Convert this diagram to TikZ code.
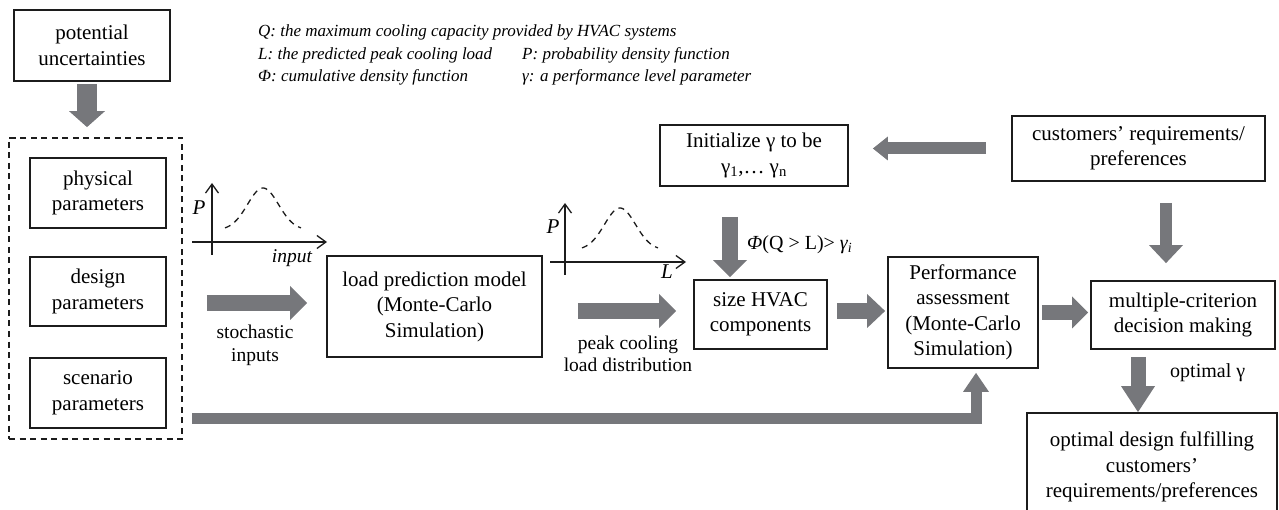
\documentclass[tikz,border=0pt]{standalone}
\usepackage{fontspec}
\setmainfont{Liberation Serif}
\usetikzlibrary{arrows.meta,calc}
\definecolor{arrowgray}{RGB}{118,119,123}
\definecolor{inkline}{RGB}{28,28,28}
\newcommand\boxfont{\fontsize{21}{25.5}\selectfont}
\newcommand\labelfont{\fontsize{19.5}{22.5}\selectfont}
\newcommand\legendfont{\fontsize{17}{20}\selectfont\itshape}

\begin{document}
\begin{tikzpicture}[x=1pt,y=-1pt,
  box/.style={draw=inkline, line width=1.8pt, rectangle, inner sep=0pt,
    align=center, font=\boxfont},
  dashbox/.style={draw=inkline, line width=1.8pt, rectangle, inner sep=0pt,
    dash pattern=on 6pt off 4.5pt},
  fat/.style n args={3}{draw=arrowgray, line width=#1,
    -{Triangle[width=#2,length=#3,line width=0pt]}},
  axis/.style={draw=inkline, line width=1.3pt,
    -{Straight Barb[length=9pt,width=13pt,line width=1.3pt]}},
  bell/.style={draw=inkline, line width=1.3pt, dash pattern=on 6pt off 5pt},
  lbl/.style={inner sep=0pt, align=center, font=\labelfont},
  legend/.style={inner sep=0pt, anchor=base west, font=\legendfont},
  axlbl/.style={inner sep=0pt, font=\fontsize{21}{24}\selectfont\itshape}]

\useasboundingbox (0,0) rectangle (1279,510);

% legend of the symbols
\node[legend] (lgQ) at (258,37) {Q: the maximum cooling capacity provided by HVAC systems};
\node[legend] (lgL) at (258,59.5) {L: the predicted peak cooling load};
\node[legend] (lgP) at (522,59.5) {P: probability density function};
\node[legend] (lgF) at (258,82) {Φ: cumulative density function};
\node[legend] (lgG) at (522,82) {γ: a performance level parameter};

% boxes
\node[box, minimum width=156pt, minimum height=71pt] (pot) at (92,45.5) {potential\\uncertainties};
\node[dashbox, minimum width=173pt, minimum height=301pt] (dash) at (95.5,288.5) {};
\node[box, minimum width=136pt, minimum height=70pt] (phys) at (98,193) {physical\\parameters};
\node[box, minimum width=136pt, minimum height=69pt] (design) at (98,291.5) {design\\parameters};
\node[box, minimum width=136pt, minimum height=70pt] (scen) at (98,393) {scenario\\parameters};
\node[box, minimum width=215pt, minimum height=101pt] (load) at (434.5,306.5) {load prediction model\\(Monte-Carlo\\Simulation)};
\node[box, minimum width=133pt, minimum height=69pt] (size) at (760.5,314.5) {size HVAC\\components};
\node[box, minimum width=188pt, minimum height=61pt] (init) at (754,155.5) {Initialize γ to be\\γ\textsubscript{1},… γ\textsubscript{n}};
\node[box, minimum width=253pt, minimum height=65pt] (cust) at (1138.5,148.5) {customers’ requirements/\\preferences};
\node[box, minimum width=150pt, minimum height=111pt] (perf) at (963,312.5) {Performance\\assessment\\(Monte-Carlo\\Simulation)};
\node[box, minimum width=184pt, minimum height=68pt] (multi) at (1183,315) {multiple-criterion\\decision making};
\node[box, minimum width=250pt, minimum height=108pt] (opt) at (1152,467) {optimal design fulfilling\\customers’\\requirements/preferences};

% input distribution sketch
\draw[axis] (212,255) -- (212,183);
\draw[axis] (192,242) -- (327,242);
\draw[bell] plot[domain=-38:38, samples=40, smooth] ({263+\x},{230-42*exp(-(\x/22)^2)});
\node[axlbl] (p1) at (199,208) {P};
\node[inner sep=0pt, font=\fontsize{19.5}{22}\selectfont\itshape] (inlbl) at (292,258) {input};

% load distribution sketch
\draw[axis] (565,275) -- (565,203);
\draw[axis] (550,262) -- (686,262);
\draw[bell] plot[domain=-38:38, samples=40, smooth] ({620+\x},{250-42*exp(-(\x/22)^2)});
\node[axlbl] (p2) at (553,227) {P};
\node[axlbl] (llbl) at (667,272) {L};

% helper points for the vertical arrows
\coordinate (szin) at ($(size.north)+(-30.5,0)$);
\coordinate (cmx) at ($(cust.south)+(27.5,0)$);
\coordinate (mox) at ($(multi.south)+(-45,0)$);
\coordinate (feed) at (192,418);

% block arrows
\draw[fat={20pt}{36pt}{16pt}, shorten <=2pt, shorten >=10pt]
  ([xshift=-5pt]pot.south) -- ([xshift=-5pt]pot.south |- dash.north);
\draw[fat={16pt}{34pt}{17pt}, shorten <=24pt, shorten >=19pt]
  ($(dash.east |- load.west)+(0,-3.5)$) -- ($(load.west)+(0,-3.5)$);
\draw[fat={16pt}{34pt}{17pt}, shorten <=35pt, shorten >=17pt]
  ($(load.east |- size.west)+(0,-3.5)$) -- ($(size.west)+(0,-3.5)$);
\draw[fat={16pt}{34pt}{17pt}, shorten <=30pt, shorten >=2pt]
  (szin |- init.south) -- (szin);
\draw[fat={16pt}{34pt}{18pt}, shorten <=9pt, shorten >=2pt]
  ($(size.east)+(0,-3.5)$) -- ($(perf.west |- size.east)+(0,-3.5)$);
\draw[fat={15pt}{32pt}{16pt}, shorten <=3pt, shorten >=2pt]
  (perf.east) -- (perf.east -| multi.west);
\draw[fat={12pt}{24pt}{15pt}, shorten <=25pt, shorten >=24pt]
  (cust.west) -- (cust.west -| init.east);
\draw[fat={12pt}{34pt}{18pt}, shorten <=21pt, shorten >=17pt]
  (cmx) -- (cmx |- multi.north);
\draw[fat={15pt}{34pt}{26pt}, shorten <=7pt, shorten >=0pt]
  (mox) -- (mox |- opt.north);
\draw[fat={11pt}{26pt}{19pt}, shorten >=4pt]
  (feed) -| ($(perf.south)+(13,0)$);

% arrow labels
\node[lbl] (stoch) at (255,345.5) {stochastic\\inputs};
\node[lbl] (peak) at (628,354) {peak cooling\\load distribution};
\node[inner sep=0pt, anchor=west, font=\fontsize{20}{24}\selectfont] (cond) at (747,245)
  {\textit{Φ}(Q > L)> \textit{γ\textsubscript{i}}};
\node[inner sep=0pt, anchor=west, font=\fontsize{20}{24}\selectfont] (optg) at (1170,373) {optimal γ};

\end{tikzpicture}
\end{document}
